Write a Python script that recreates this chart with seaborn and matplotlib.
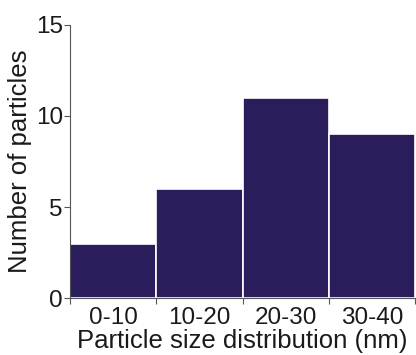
import matplotlib
matplotlib.use('Agg')
import pandas as pd
import matplotlib.pyplot as plt
import seaborn as sns

# Data
size_bins = ['0-10', '10-20', '20-30', '30-40']
counts = [3, 6, 11, 9]

df = pd.DataFrame({'Size': size_bins, 'Count': counts})

sns.set_style('ticks')
plt.rcParams['font.family'] = ['Liberation Sans', 'DejaVu Sans']

fig = plt.figure(figsize=(4.16, 3.55), dpi=100)
ax = fig.add_axes([0.168, 0.16, 0.83, 0.77])

sns.barplot(data=df, x='Size', y='Count', color='#2b1d5c', saturation=1,
            width=1.0, edgecolor='white', linewidth=1.2, ax=ax)

ax.set_xlim(-0.5, 3.5)
ax.set_ylim(0, 15)
ax.set_yticks([0, 5, 10, 15])

# ticks at the bin edges, labels centred on the bars
ax.set_xticks([-0.5, 0.5, 1.5, 2.5, 3.5], minor=True)
ax.tick_params(axis='x', which='major', length=0, pad=6)
ax.tick_params(axis='x', which='minor', length=4, width=0.8, color='#555555')
ax.tick_params(axis='y', length=4, width=0.8, color='#555555', pad=1)
ax.tick_params(labelsize=17.5, labelcolor='#1a1a1a')

ax.set_xlabel('Particle size distribution (nm)', fontsize=18.5, labelpad=0, color='#1a1a1a')
ax.set_ylabel('Number of particles', fontsize=18.5, labelpad=3, color='#1a1a1a')

sns.despine(ax=ax)
for s in ['left', 'bottom']:
    ax.spines[s].set_color('#555555')
    ax.spines[s].set_linewidth(0.8)

fig.savefig('out.png', dpi=100)
